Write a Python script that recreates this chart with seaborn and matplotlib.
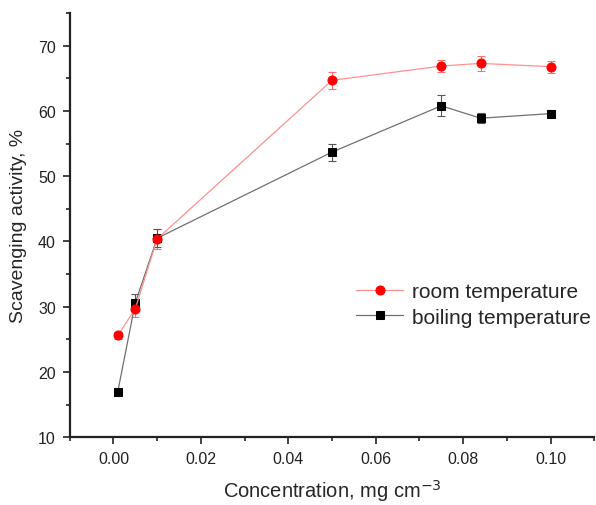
import numpy as np
import matplotlib.pyplot as plt
import matplotlib.ticker as mticker
import seaborn as sns
import pandas as pd

# data
conc = [0.001, 0.005, 0.01, 0.05, 0.075, 0.084, 0.10]
room = [25.6, 29.7, 40.4, 64.7, 66.9, 67.3, 66.8]
room_err = [0.5, 1.2, 1.5, 1.3, 0.9, 1.2, 0.9]
boil = [17.0, 30.6, 40.5, 53.7, 60.8, 58.9, 59.6]
boil_err = [0.4, 1.3, 1.4, 1.3, 1.6, 0.8, 0.5]

df = pd.DataFrame({
    "conc": conc * 2,
    "activity": room + boil,
    "series": ["room temperature"] * len(conc) + ["boiling temperature"] * len(conc),
})

sns.set_style("ticks")
plt.rcParams["font.family"] = ["Liberation Sans", "DejaVu Sans"]

fig = plt.figure(figsize=(5.96, 5.06), dpi=100)
ax = fig.add_axes([0.117, 0.134, 0.88, 0.838])

line_cols = {"room temperature": "#ff9090", "boiling temperature": "#707070"}
mark_cols = {"room temperature": "#ff0000", "boiling temperature": "#000000"}
markers = {"room temperature": "o", "boiling temperature": "s"}
msizes = {"room temperature": 6.5, "boiling temperature": 5.5}

# error bars first so markers sit on top
ax.errorbar(conc, room, yerr=room_err, fmt="none", ecolor="#ff7070",
            elinewidth=0.8, capsize=3, capthick=0.8, zorder=2)
ax.errorbar(conc, boil, yerr=boil_err, fmt="none", ecolor="#555555",
            elinewidth=0.8, capsize=3, capthick=0.8, zorder=2)

for name in ["boiling temperature", "room temperature"]:
    sub = df[df["series"] == name]
    sns.lineplot(data=sub, x="conc", y="activity", ax=ax, color=line_cols[name],
                 linewidth=0.9, marker=markers[name], markersize=msizes[name],
                 markerfacecolor=mark_cols[name], markeredgecolor=mark_cols[name],
                 label=name, zorder=3, errorbar=None)

ax.set_xlim(-0.01, 0.11)
ax.set_ylim(10, 75)
ax.xaxis.set_major_locator(mticker.MultipleLocator(0.02))
ax.xaxis.set_minor_locator(mticker.MultipleLocator(0.01))
ax.yaxis.set_major_locator(mticker.MultipleLocator(10))
ax.yaxis.set_minor_locator(mticker.MultipleLocator(5))
ax.xaxis.set_major_formatter(mticker.FormatStrFormatter("%.2f"))
ax.set_yticks(np.arange(10, 71, 10))

for s in ["top", "right"]:
    ax.spines[s].set_visible(False)
for s in ["left", "bottom"]:
    ax.spines[s].set_linewidth(1.6)
    ax.spines[s].set_color("#222222")
ax.tick_params(which="major", direction="out", length=5, width=1.2, labelsize=11.5,
               colors="#222222", pad=5)
ax.tick_params(which="minor", direction="out", length=3, width=1.2, colors="#222222")

ax.set_xlabel("Concentration, mg cm$^{-3}$", fontsize=14.5, labelpad=8)
ax.set_ylabel("Scavenging activity, %", fontsize=14, labelpad=8)

handles, labels = ax.get_legend_handles_labels()
order = [labels.index("room temperature"), labels.index("boiling temperature")]
ax.legend([handles[i] for i in order], [labels[i] for i in order],
          loc="upper left", bbox_to_anchor=(0.537, 0.375), frameon=False,
          fontsize=15, handlelength=2.3, handletextpad=0.4, labelspacing=0.3,
          borderpad=0.2, borderaxespad=0)

fig.savefig("out.png", dpi=100)
